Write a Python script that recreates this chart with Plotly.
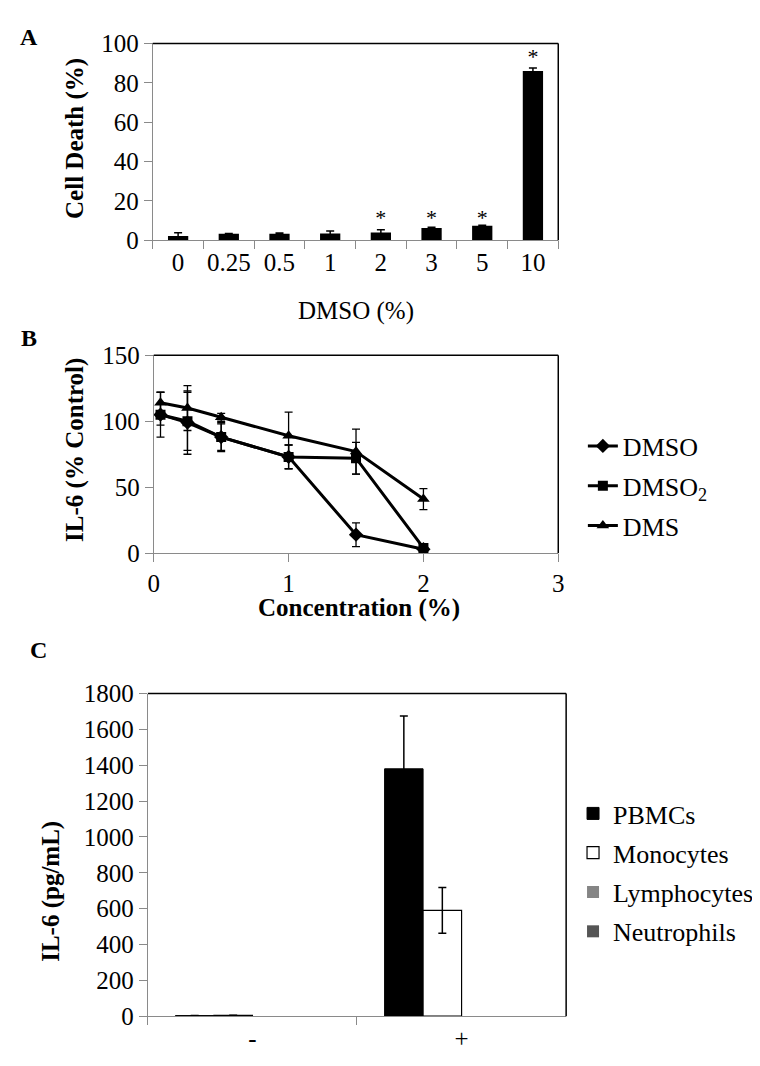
import plotly.graph_objects as go

# ---------- Data ----------
# Panel A
a_categories = ["0", "0.25", "0.5", "1", "2", "3", "5", "10"]
a_values = [2.2, 3.3, 3.3, 3.5, 4.0, 6.3, 7.4, 86.0]
a_errors = [1.6, 0.2, 0.4, 1.2, 1.3, 0.3, 0.3, 1.5]
a_star_categories = ["2", "3", "5", "10"]
a_star_y = [10.5, 10.5, 10.5, 92.5]

# Panel B
b_conc = [0.05, 0.25, 0.5, 1.0, 1.5, 2.0]
b_dmso = [105, 99, 88, 73, 14, 3]
b_dmso_err = [17, 24, 10, 9, 9, 2]
b_dmso2 = [105, 100, 88, 73, 72, 4]
b_dmso2_err = [8, 22, 11, 9, 12, 3]
b_dms = [114, 110, 103, 89, 77, 41]
b_dms_err = [8, 17, 3, 18, 17, 8]

# Panel C
c_groups = ["-", "+"]
c_pbmc = [3, 1380]
c_pbmc_err = [0, 295]
c_mono = [5, 590]
c_mono_err = [0, 128]
c_lymph = [0, 0]
c_neut = [0, 0]

FONT = "Liberation Serif, Tinos, Times New Roman, DejaVu Serif, serif"
GREY = "#8a8a8a"
W, H = 760, 1066

def xd(a, b):
    return [a / W, b / W]

def yd(top, bottom):
    return [1 - bottom / H, 1 - top / H]

fig = go.Figure()

# ---------- Panel A ----------
fig.add_trace(go.Bar(
    x=a_categories, y=a_values, xaxis="x", yaxis="y", width=0.4,
    marker=dict(color="black", line=dict(color="black", width=0)),
    error_y=dict(type="data", array=a_errors, visible=True, color="black",
                 thickness=1.5, width=4),
    showlegend=False))
fig.add_trace(go.Scatter(
    x=a_star_categories, y=a_star_y, xaxis="x", yaxis="y", mode="text",
    text=["*"] * len(a_star_categories),
    textfont=dict(family=FONT, size=22, color="black"), showlegend=False))

# ---------- Panel B ----------
def b_trace(y, err, name, symbol, size, leg):
    return go.Scatter(
        x=b_conc, y=y, xaxis="x2", yaxis="y2", name=name, mode="lines+markers",
        line=dict(color="black", width=3),
        marker=dict(symbol=symbol, size=size, color="black"),
        error_y=dict(type="data", array=err, visible=True, color="black",
                     thickness=1.3, width=4),
        legend="legend", legendgroup=leg)

fig.add_trace(b_trace(b_dmso, b_dmso_err, "DMSO", "diamond", 11, "b1"))
fig.add_trace(b_trace(b_dmso2, b_dmso2_err, "DMSO<sub>2</sub>", "square", 10, "b2"))
fig.add_trace(b_trace(b_dms, b_dms_err, "DMS", "triangle-up", 11, "b3"))

# ---------- Panel C ----------
fig.add_trace(go.Bar(
    x=c_groups, y=c_pbmc, name="PBMCs", xaxis="x3", yaxis="y3",
    marker=dict(color="black", line=dict(color="black", width=1)),
    error_y=dict(type="data", array=c_pbmc_err, visible=True, color="black",
                 thickness=1.5, width=4),
    legend="legend2", legendgroup="c1"))
fig.add_trace(go.Bar(
    x=c_groups, y=c_mono, name="Monocytes", xaxis="x3", yaxis="y3",
    marker=dict(color="white", line=dict(color="black", width=1.2)),
    error_y=dict(type="data", array=c_mono_err, visible=True, color="black",
                 thickness=1.5, width=4),
    legend="legend2", legendgroup="c2"))
fig.add_trace(go.Bar(
    x=c_groups, y=c_lymph, name="Lymphocytes", xaxis="x3", yaxis="y3",
    marker=dict(color="#858585", line=dict(color="#858585", width=0)),
    legend="legend2", legendgroup="c3"))
fig.add_trace(go.Bar(
    x=c_groups, y=c_neut, name="Neutrophils", xaxis="x3", yaxis="y3",
    marker=dict(color="#555555", line=dict(color="#555555", width=0)),
    legend="legend2", legendgroup="c4"))

tickfont = dict(family=FONT, size=25, color="black")
common_axis = dict(showline=True, linecolor=GREY, linewidth=1, ticks="outside",
                   tickcolor=GREY, ticklen=8, tickwidth=1, showgrid=False,
                   zeroline=False, tickfont=tickfont, fixedrange=True, tickangle=0)

fig.update_layout(
    width=W, height=H, autosize=False,
    margin=dict(l=0, r=0, t=0, b=0),
    paper_bgcolor="white", plot_bgcolor="white",
    font=dict(family=FONT, color="black"),
    barmode="group",
    xaxis=dict(domain=xd(141, 553), anchor="y", type="category",
               tickson="boundaries", **common_axis),
    yaxis=dict(domain=yd(23, 225), anchor="x", range=[0, 100], dtick=20,
               **common_axis),
    xaxis2=dict(domain=xd(142, 553), anchor="y2", range=[0, 3], dtick=1,
                **common_axis),
    yaxis2=dict(domain=yd(343, 546), anchor="x2", range=[0, 150], dtick=50,
                **common_axis),
    xaxis3=dict(domain=xd(136, 561), anchor="y3", type="category",
                tickson="boundaries", **common_axis),
    yaxis3=dict(domain=yd(690, 1021), anchor="x3", range=[0, 1800], dtick=200,
                **common_axis),
    bargap=0.264, bargroupgap=0,
    legend=dict(x=578 / W, y=1 - 412 / H, xanchor="left", yanchor="top",
                font=dict(family=FONT, size=26, color="black"),
                bgcolor="rgba(0,0,0,0)", tracegroupgap=3, itemwidth=30),
    legend2=dict(x=568 / W, y=1 - 789 / H, xanchor="left", yanchor="top",
                 font=dict(family=FONT, size=26, color="black"),
                 bgcolor="rgba(0,0,0,0)", tracegroupgap=2.5, itemwidth=30),
)

# Black top and right frame lines for each panel
shapes = []
for xr, yr in [("x", "y"), ("x2", "y2"), ("x3", "y3")]:
    shapes.append(dict(type="line", xref=f"{xr} domain", yref=f"{yr} domain",
                       x0=0, x1=1, y0=1, y1=1, line=dict(color="black", width=1.5)))
    shapes.append(dict(type="line", xref=f"{xr} domain", yref=f"{yr} domain",
                       x0=1, x1=1, y0=0, y1=1, line=dict(color="black", width=1.5)))
fig.update_layout(shapes=shapes)

def ann(text, x, y, size=25, bold=False, angle=0):
    t = f"<b>{text}</b>" if bold else text
    return dict(text=t, x=x / W, y=1 - y / H, xref="paper", yref="paper",
                showarrow=False, textangle=angle, xanchor="center", yanchor="middle",
                font=dict(family=FONT, size=size, color="black"))

fig.update_layout(annotations=[
    ann("A", 15, 16, size=24, bold=True),
    ann("B", 15, 325, size=24, bold=True),
    ann("C", 25, 645, size=24, bold=True),
    ann("Cell Death (%)", 62, 121, bold=True, angle=-90),
    ann("DMSO (%)", 347, 298),
    ann("IL-6 (% Control)", 62, 440, bold=True, angle=-90),
    ann("Concentration (%)", 351, 602, bold=True),
    ann("IL-6 (pg/mL)", 38, 893, bold=True, angle=-90),
])

fig.write_html("out.html")
